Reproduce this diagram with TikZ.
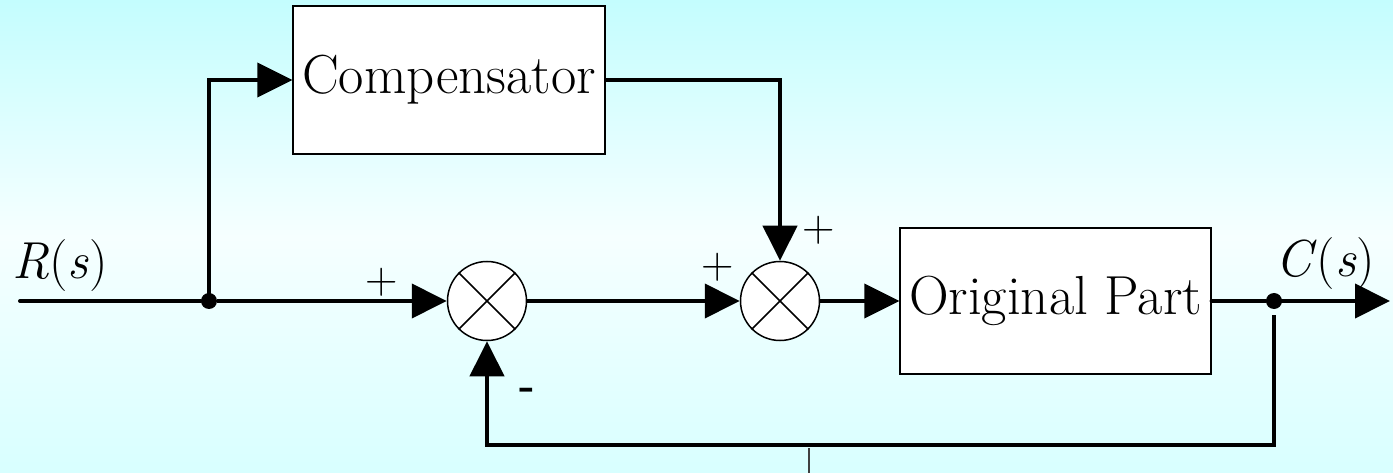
\documentclass[tikz,border=0pt]{standalone}
\usepackage{fontspec}
\usetikzlibrary{arrows.meta,calc}
\definecolor{bgtop}{RGB}{196,253,254}
\definecolor{bgmid}{RGB}{246,255,255}
\definecolor{bgbot}{RGB}{216,255,255}
\tikzset{
  blockbox/.style={draw=black, line width=1.2pt, fill=white, inner sep=0pt, font=\fontsize{55}{60}\selectfont},
  sumnode/.style={draw=black, line width=1.5pt, fill=white, circle, minimum size=79pt, inner sep=0pt},
  sig/.style={line width=4pt, -{Triangle[length=35pt,width=34pt]}},
  plain/.style={line width=4pt, line cap=round},
  lbl/.style={font=\fontsize{52}{56}\selectfont, inner sep=0pt},
  sgn/.style={font=\fontsize{45}{48}\selectfont, inner sep=0pt},
  dot/.style={circle, fill=black, minimum size=16pt, inner sep=0pt}
}
\begin{document}
\begin{tikzpicture}[x=1pt,y=-1pt]
\shade[top color=bgtop, bottom color=bgbot, middle color=bgmid] (0,0) rectangle (1393,473);
\path[use as bounding box] (0,0) rectangle (1393,473);

\node[blockbox, minimum width=312pt, minimum height=148pt] (comp) at (449,80) {Compensator};
\node[blockbox, minimum width=311pt, minimum height=146pt] (op) at (1055.5,301) {Original Part};
\node[sumnode] (s1) at (487,301) {};
\node[sumnode] (s2) at (780,301) {};
\foreach \s in {s1,s2}{
  \draw[line width=1.5pt] (\s.north west) -- (\s.south east);
  \draw[line width=1.5pt] (\s.north east) -- (\s.south west);
}

\coordinate (in) at (20,301);
\node[dot] (j1) at (209,301) {};
\node[dot] (j2) at (1274,301) {};
\coordinate (out) at (1390,301);
\coordinate (fb) at (1274,315);
\coordinate (bot) at (0,445);

\draw[plain] (in) -- (j1);
\draw[sig] (j1) -- (s1.west);
\draw[sig] (j1.center) |- (comp.west);
\draw[sig] (comp.east) -| (s2.north);
\draw[sig] (s1.east) -- (s2.west);
\draw[sig] (s2.east) -- (op.west);
\draw[plain] (op.east) -- (j2);
\draw[sig] (j2.center) -- (out);
\draw[sig] (fb) -- (fb |- bot) -| (s1.south);

\draw[line width=1.2pt, black!75] (809,448) -- (809,473);

\node[lbl] (R) at (60,266) {\textit{R}(\textit{s})};
\node[lbl] (C) at (1325,264) {\textit{C}(\textit{s})};
\node[sgn] (p1) at (382,282) {+};
\node[sgn] (p2) at (718,267) {+};
\node[sgn] (p3) at (819,230) {+};
\node[font=\fontsize{42}{46}\selectfont\bfseries, inner sep=0pt] (m1) at (527,394) {-};
\end{tikzpicture}
\end{document}
